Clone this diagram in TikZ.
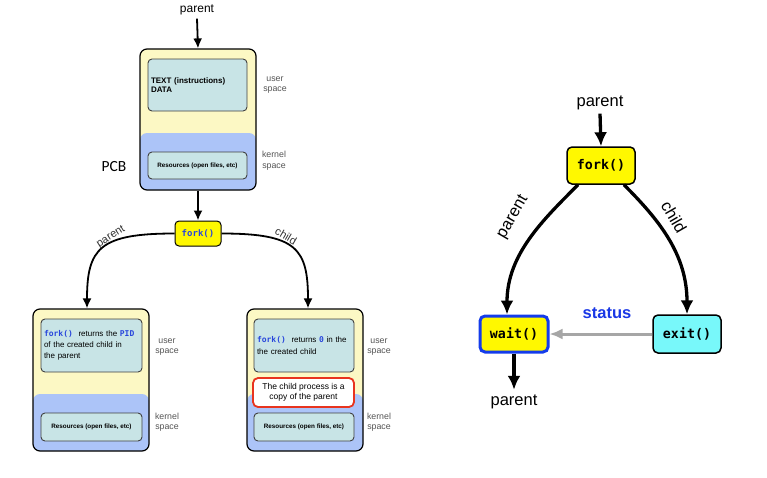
\documentclass[tikz,border=0pt]{standalone}
\usepackage{fontspec}
\setmainfont{Liberation Sans}
\setmonofont{DejaVu Sans Mono}
\newfontfamily\pcbfont{Carlito}
\usetikzlibrary{arrows.meta}
\definecolor{userY}{RGB}{252,248,196}
\definecolor{kernB}{RGB}{172,196,248}
\definecolor{innerC}{RGB}{200,228,230}
\definecolor{forkY}{RGB}{255,248,0}
\definecolor{codeB}{RGB}{40,70,220}
\definecolor{labG}{RGB}{85,85,85}
\definecolor{exitC}{RGB}{120,248,250}
\definecolor{statB}{RGB}{25,55,230}
\definecolor{redE}{RGB}{232,52,30}
\definecolor{waitB}{RGB}{20,60,235}
\newcommand\code[1]{{\ttfamily\bfseries\color{codeB}#1}}
\begin{document}
\begin{tikzpicture}[x=1pt,y=-1pt,
  procbox/.style={draw=black,line width=1.2pt,rounded corners=7pt,fill=userY,
    minimum width=116pt,minimum height=142pt,inner sep=0pt,
    path picture={\fill[kernB] (path picture bounding box.south west) rectangle ([yshift=57pt]path picture bounding box.south east);}},
  innerbox/.style={draw=black!75,line width=0.9pt,rounded corners=4pt,fill=innerC,inner sep=3pt},
  restext/.style={innerbox,font=\bfseries\fontsize{6.3}{7.5}\selectfont,align=center},
  spacelbl/.style={text=labG,font=\fontsize{8.8}{10.5}\selectfont,align=center},
  smallarr/.style={line width=1.8pt,-{Latex[length=10pt,width=9pt]}},
  bigarr/.style={line width=3.3pt,-{Latex[length=14pt,width=13pt]}},
  curvelbl/.style={text=black!80,font=\fontsize{11}{13}\selectfont},
  biglbl/.style={font=\fontsize{16.5}{19}\selectfont},
  fnbox/.style={rounded corners=5pt,font=\ttfamily\bfseries\fontsize{13.3}{15}\selectfont,minimum height=37pt,inner sep=0pt}
]
\useasboundingbox (0,0) rectangle (767,477);
\fill[white] (0,0) rectangle (767,477);

% ---------- left diagram ----------
\node[font=\fontsize{12}{14}\selectfont] (ptop) at (197,10) {parent};
\node[procbox,minimum height=141pt] (top) at (198,119.5) {};
\node[innerbox,minimum width=99pt,minimum height=52pt,text width=93pt,align=left,
  font=\bfseries\fontsize{8}{9}\selectfont] (toptext) at (197.5,85) {TEXT (instructions)\\DATA};
\node[restext,minimum width=99pt,minimum height=27pt] (topres) at (197.5,165.5) {Resources (open files, etc)};
\node[spacelbl] (topuser) at (275,85) {user\\space};
\node[spacelbl] (topkern) at (274,160.5) {kernel\\space};
\node[font=\pcbfont\fontsize{15.5}{18}\selectfont] (pcb) at (114,167) {PCB};

\node[draw=black,line width=1pt,fill=forkY,rounded corners=4pt,minimum width=46pt,minimum height=25pt,inner sep=0pt,
  font=\ttfamily\bfseries\fontsize{9}{11}\selectfont,text=codeB] (lfork) at (198,233.5) {fork()};

\draw[smallarr] (ptop.south) -- (top.north);
\draw[smallarr] (top.south) -- (lfork.north);

\node[procbox] (lbox) at (91,380) {};
\node[innerbox,minimum width=101pt,minimum height=53pt,text width=95pt,align=left,
  font=\fontsize{8}{11}\selectfont] (ltext) at (91.5,345.5)
  {\code{fork()}\hspace{3pt} returns the \code{PID}\\of the created child in\\the parent};
\node[restext,minimum width=101pt,minimum height=28pt] (lres) at (91.5,427) {Resources (open files, etc)};
\node[spacelbl] (luser) at (167,347) {user\\space};
\node[spacelbl] (lkern) at (167,422) {kernel\\space};

\node[procbox] (rbox) at (305,380) {};
\node[innerbox,minimum width=100pt,minimum height=53pt,text width=94pt,align=left,
  font=\fontsize{8}{11.5}\selectfont] (rtext) at (304,345.5)
  {\code{fork()}\hspace{3pt} returns \code{0} in the\\the created child};
\node[draw=redE,line width=1.8pt,fill=white,rounded corners=5pt,minimum width=101pt,minimum height=29pt,
  inner sep=0pt,align=center,font=\fontsize{8.5}{10.5}\selectfont] (rcopy) at (303.5,392.5)
  {The child process is a\\copy of the parent};
\node[restext,minimum width=100pt,minimum height=28pt] (rres) at (304,427) {Resources (open files, etc)};
\node[spacelbl] (ruser) at (379,347) {user\\space};
\node[spacelbl] (rkern) at (379,422) {kernel\\space};

\draw[smallarr] (lfork.west) .. controls +(-75,0) and +(0,-60) .. ([xshift=-4pt]lbox.north);
\draw[smallarr] (lfork.east) .. controls +(75,0) and +(0,-60) .. ([xshift=3pt]rbox.north);
\node[curvelbl,rotate=32] (lplab) at (111,237) {parent};
\node[curvelbl,rotate=-30] (lclab) at (286,236) {child};

% ---------- right diagram ----------
\node[biglbl] (p2top) at (600,103) {parent};
\node[fnbox,draw=black,line width=1.5pt,fill=forkY,minimum width=68pt] (fork2) at (601,165.5) {fork()};
\node[fnbox,draw=waitB,line width=3pt,fill=forkY,minimum width=68pt,minimum height=36pt] (wait) at (514,334) {wait()};
\node[fnbox,draw=black,line width=1.5pt,fill=exitC,minimum width=68pt,minimum height=38pt] (exit) at (687,334) {exit()};
\node[biglbl,inner sep=5pt] (p2bot) at (514,402) {parent};
\node[font=\bfseries\fontsize{16.5}{19}\selectfont,text=statB] (status) at (607,313) {status};

\draw[bigarr] (p2top.south) -- (fork2.north);
\draw[bigarr] (wait.south) -- (p2bot.north);
\draw[line width=3pt,black!35,-{Latex[length=13pt,width=11pt]}] (exit.west) -- (wait.east);
\draw[bigarr] (fork2.-140) .. controls +(-35,35) and +(0,-60) .. ([xshift=-7pt]wait.north);
\draw[bigarr] (fork2.-40) .. controls +(35,35) and +(0,-60) .. (exit.north);
\node[biglbl,rotate=60] (rplab) at (513,217) {parent};
\node[biglbl,rotate=-60] (rclab) at (674,217) {child};
\end{tikzpicture}
\end{document}
